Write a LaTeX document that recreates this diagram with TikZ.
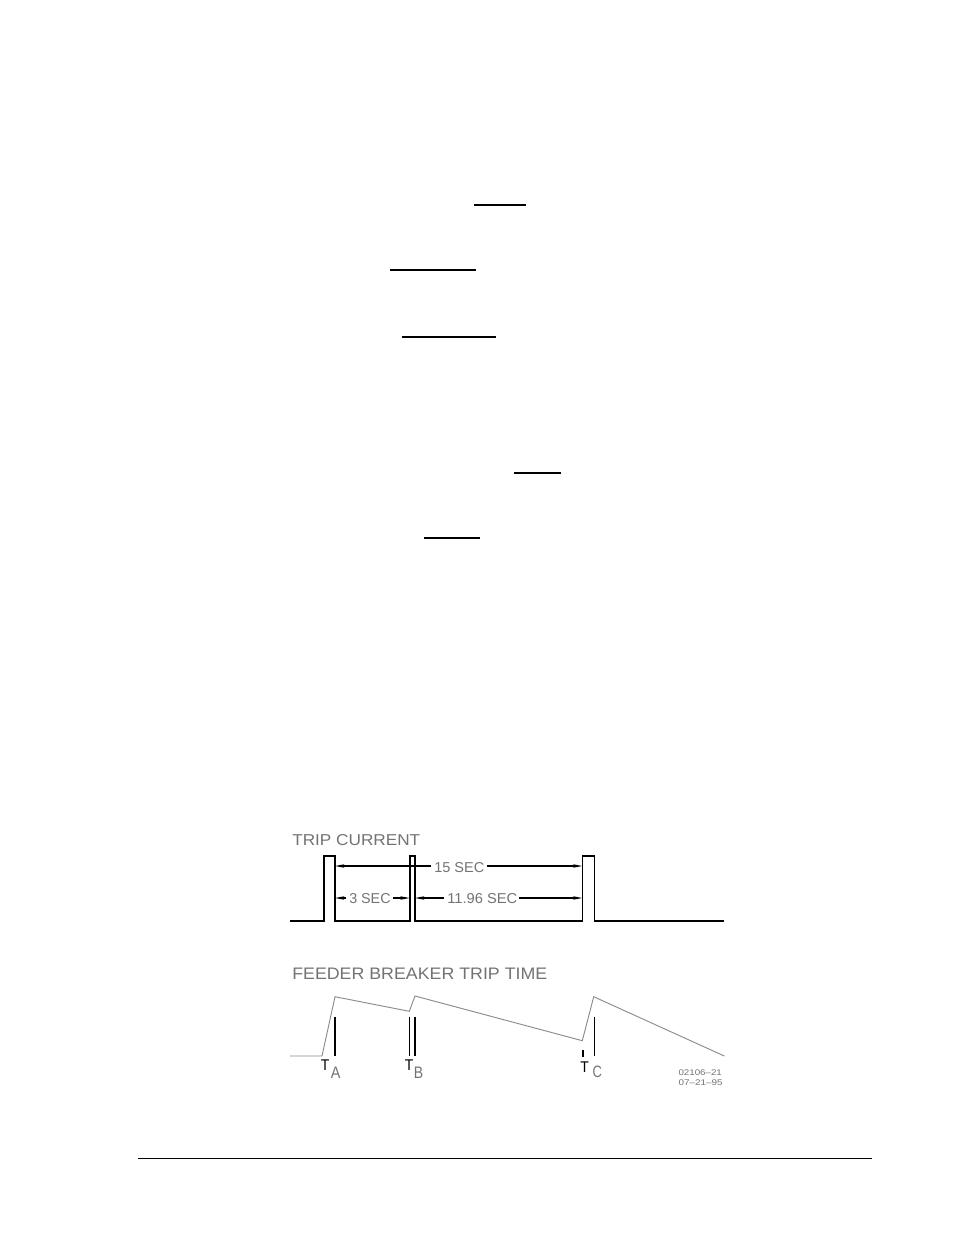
\documentclass[tikz,border=0pt]{standalone}
\usepackage{fontspec}
\usepackage{graphicx}
\setmainfont{Liberation Sans}
\usetikzlibrary{arrows.meta}
\newcommand{\cadtext}[3]{\resizebox{#1}{#2}{#3}}
\tikzset{
  rule/.style={line width=1.4pt, black},
  wave/.style={line width=1.2pt, black, line join=miter},
  curve/.style={line width=0.7pt, black!45},
  marker/.style={line width=1.2pt, black},
  dim/.style={line width=0.9pt, black, -{Stealth[length=7pt,width=2.6pt]}},
  lbl/.style={inner sep=0pt, anchor=base west, text=black!55},
  tlbl/.style={inner sep=0pt, anchor=base west, text=black},
}
\begin{document}
\begin{tikzpicture}[x=0.75pt,y=-0.75pt]
\useasboundingbox (0,0) rectangle (954,1235);
\fill[white] (0,0) rectangle (954,1235);

% underlines in upper part
\draw[rule] (474.3,205) -- (525.7,205);
\draw[rule] (390,270) -- (475.7,270);
\draw[rule] (401.7,337.3) -- (495.7,337.3);
\draw[rule] (514.3,473.3) -- (560.7,473.3);
\draw[rule] (424,538.3) -- (480,538.3);

% bottom page rule
\draw[line width=1.2pt] (138,1158.5) -- (871.7,1158.5);

% TRIP CURRENT
\node[lbl] (tc) at (292,845) {\cadtext{96pt}{8.25pt}{TRIP CURRENT}};
\draw[wave] (290,921) -- (324,921) -- (324,856) -- (335,856) -- (335,921)
  -- (409.7,921) -- (409.7,856) -- (415,856) -- (415,921)
  -- (582.3,921) -- (582.3,856) -- (594.3,856) -- (594.3,921) -- (724.3,921);

\coordinate (p1r) at (335,866);
\coordinate (p3l) at (582.3,866);
\coordinate (p1rb) at (335,898);
\coordinate (p2l) at (409.7,898);
\coordinate (p2r) at (415,898);
\coordinate (p3lb) at (582.3,898);

\node[lbl] (s15) at (434,872.5) {\cadtext{37.5pt}{7.5pt}{15 SEC}};
\node[lbl] (s3) at (349,903.5) {\cadtext{31pt}{7.5pt}{3 SEC}};
\node[lbl] (s1196) at (447,903.5) {\cadtext{52.5pt}{7.5pt}{11.96 SEC}};

\draw[dim] (431,866) -- (p1r);
\draw[dim] (487,866) -- (p3l);
\draw[dim] (346,898) -- (p1rb);
\draw[dim] (393,898) -- (p2l);
\draw[dim] (444,898) -- (p2r);
\draw[dim] (519,898) -- (p3lb);

% FEEDER BREAKER TRIP TIME
\node[lbl] (fb) at (292,979) {\cadtext{191.25pt}{8.6pt}{FEEDER BREAKER TRIP TIME}};
\draw[curve] (290,1056) -- (322,1056) -- (335,996.7) -- (409.3,1011.3) -- (415,996)
  -- (582.3,1040.7) -- (593.7,996.7) -- (724.3,1056);

\draw[marker] (335,1016.7) -- (335,1056);
\draw[marker] (409.3,1016.7) -- (409.3,1056);
\draw[marker] (414.7,1016.7) -- (414.7,1056);
\draw[marker] (582.7,1050) -- (582.7,1056.5);
\draw[marker] (594.3,1016.7) -- (594.3,1056);

% T labels
\node[tlbl] (ta) at (320.5,1070.5) {\cadtext{6.4pt}{8pt}{T}};
\node[lbl] (taa) at (330.7,1078.3) {\cadtext{7.2pt}{8.6pt}{A}};
\node[tlbl] (tb) at (404.5,1070.5) {\cadtext{6.4pt}{8pt}{T}};
\node[lbl] (tbb) at (413.5,1078.3) {\cadtext{7pt}{8.6pt}{B}};
\node[tlbl] (tcc) at (580,1072) {\cadtext{6.4pt}{8pt}{T}};
\node[lbl] (tcs) at (592.3,1077.7) {\cadtext{7pt}{8.6pt}{C}};

% drawing stamp
\node[lbl] (st1) at (678.3,1075.7) {\cadtext{32.5pt}{4.3pt}{02106--21}};
\node[lbl] (st2) at (678.3,1085.7) {\cadtext{33pt}{4.3pt}{07--21--95}};
\end{tikzpicture}
\end{document}
